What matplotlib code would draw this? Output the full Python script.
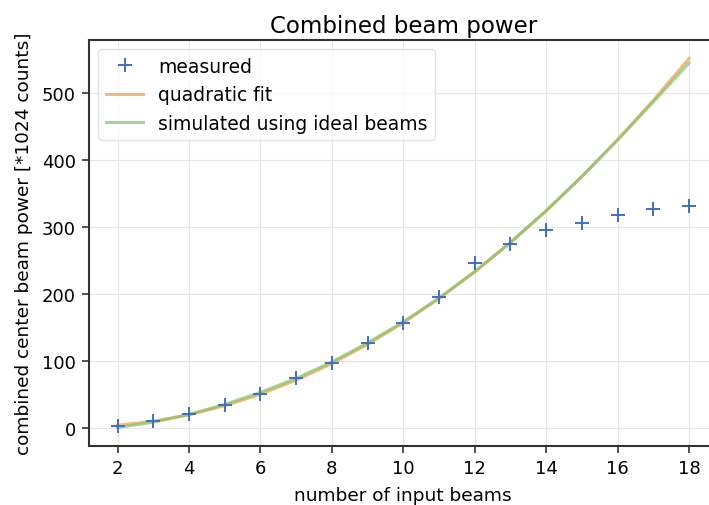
import matplotlib
matplotlib.use("Agg")
import matplotlib.pyplot as plt

# number of beams and measured power
n_beams = [2, 3, 4, 5, 6, 7, 8, 9, 10, 11, 12, 13, 14, 15, 16, 17, 18]
measured = [3, 10, 20, 34, 51, 74, 97, 127, 157, 195, 247, 275, 296, 306, 318, 327, 331]
# quadratic fit values
quad_fit = [4, 9.9, 19.6, 33.0, 50.2, 71.3, 96.1, 124.6, 157, 193.2, 233.0, 276.8,
            324.2, 375.5, 430.6, 489.4, 552]
# simulated using ideal beams
simulated = [0.5, 8.5, 20.0, 35.0, 53.0, 74.0, 98.5, 127.0, 158.5, 194.0, 233.5,
             277.0, 324.5, 375.5, 430.0, 487.0, 545]

plt.rcParams['font.family'] = ['DejaVu Sans']

fig = plt.figure(figsize=(7.09, 5.06), dpi=100)
ax = fig.add_axes([0.1255, 0.1166, 0.8866, 0.8024])

ax.plot(n_beams, measured, '+', color='#4070c0', markersize=9.5, mew=1.4, label='measured', zorder=3)
ax.plot(n_beams, quad_fit, color='#f2a862', lw=2.2, alpha=0.8, label='quadratic fit')
ax.plot(n_beams, simulated, color='#80c468', lw=2.2, alpha=0.7, label='simulated using ideal beams')

ax.set_xticks(range(2, 19, 2))
ax.set_yticks(range(0, 501, 100))
ax.grid(True, color='#e6e6e6', lw=0.8)
ax.set_axisbelow(True)
for s in ax.spines.values():
    s.set_color('#333333')
    s.set_linewidth(1.5)
ax.tick_params(labelsize=13, width=1.2, length=5, color='#333333', pad=4.5)

ax.set_title('Combined beam power', fontsize=16.5, pad=6)
ax.set_xlabel('number of input beams', fontsize=13.3, labelpad=6)
ax.set_ylabel('combined center beam power [*1024 counts]', fontsize=13.3, labelpad=6)
ax.legend(loc='upper left', fontsize=13.5, edgecolor='#dddddd')

fig.savefig('out.png', dpi=100)
